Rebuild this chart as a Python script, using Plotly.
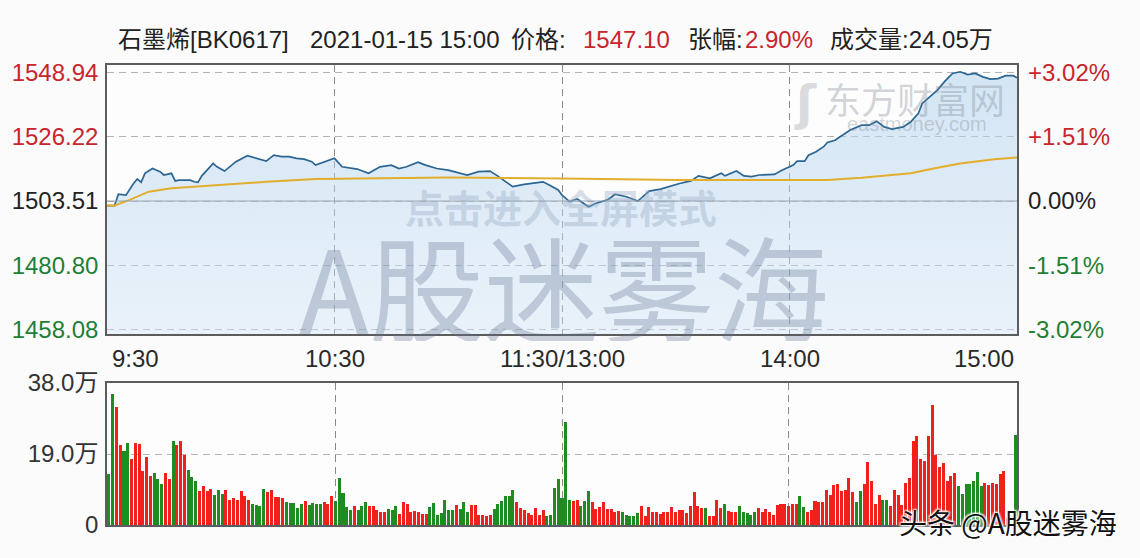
import plotly.graph_objects as go

# ---------------- data ----------------
stock_name = "石墨烯"
stock_code = "BK0617"
timestamp = "2021-01-15 15:00"
last_price = "1547.10"
change_pct = "2.90%"
last_volume = "24.05万"
prev_close = 1503.51

price_ticks = [1548.94, 1526.22, 1503.51, 1480.80, 1458.08]
pct_labels = ["+3.02%", "+1.51%", "0.00%", "-1.51%", "-3.02%"]
vol_ticks = [0, 19, 38]
vol_tick_labels = ["0", "19.0万", "38.0万"]
time_labels = ["9:30", "10:30", "11:30/13:00", "14:00", "15:00"]
time_label_minutes = [0, 60, 120, 180, 240]

price_minute = [0, 2, 3, 5, 7, 8, 9, 10, 12, 14, 15, 17, 18, 19, 22, 23, 24, 25, 28, 29,
                31, 33, 34, 37, 39, 40, 42, 44, 46, 48, 50, 52, 54, 55, 58, 60, 62, 64, 66, 69,
                71, 72, 75, 77, 79, 82, 84, 87, 90, 93, 95, 98, 101, 103, 105, 107, 110, 112, 115, 117,
                119, 120, 122, 124, 125, 127, 129, 132, 134, 137, 140, 143, 146, 148, 151, 154, 156, 159, 162, 163,
                166, 168, 170, 172, 176, 178, 181, 182, 184, 185, 187, 189, 190, 192, 194, 196, 199, 201, 203, 205,
                207, 210, 212, 214, 215, 217, 219, 221, 223, 225, 227, 229, 231, 233, 235, 237, 239, 240]
price_value = [1501.9, 1501.9, 1505.9, 1505.6, 1509.7, 1511.3, 1510.1, 1513.3, 1515.0, 1513.9,
               1512.7, 1513.3, 1510.6, 1510.9, 1510.9, 1510.3, 1510.1, 1512.4, 1516.8, 1515.6,
               1514.1, 1516.2, 1517.4, 1519.5, 1518.8, 1518.3, 1517.6, 1519.7, 1519.2, 1519.2,
               1518.6, 1518.3, 1517.4, 1516.2, 1517.6, 1518.6, 1515.6, 1515.3, 1514.8, 1513.3,
               1515.0, 1515.6, 1516.2, 1515.0, 1515.6, 1517.2, 1516.2, 1515.0, 1514.4, 1513.3,
               1512.7, 1513.9, 1514.1, 1512.4, 1510.6, 1508.6, 1509.4, 1509.7, 1510.3, 1508.9,
               1507.4, 1505.6, 1503.3, 1504.2, 1503.3, 1501.5, 1502.7, 1503.9, 1505.9, 1505.0,
               1503.5, 1507.0, 1507.7, 1508.6, 1509.7, 1510.6, 1512.4, 1511.5, 1513.3, 1512.4,
               1514.1, 1512.4, 1512.1, 1512.7, 1512.9, 1514.4, 1516.2, 1517.6, 1517.6, 1519.7,
               1520.9, 1522.7, 1524.2, 1525.0, 1526.8, 1528.6, 1530.3, 1530.3, 1531.7, 1529.7,
               1528.9, 1529.7, 1531.5, 1534.5, 1538.0, 1540.3, 1542.7, 1545.9, 1548.6, 1549.2,
               1548.2, 1548.6, 1547.4, 1546.6, 1546.8, 1547.8, 1547.8, 1547.1]

avg_minute = [0, 2, 6, 11, 17, 23, 29, 42, 55, 68, 72, 90, 120, 151, 172, 190, 199, 212, 218, 225, 234, 240]
avg_value = [1501.9, 1501.9, 1503.9, 1506.8, 1508.0, 1508.6, 1509.2, 1510.3, 1511.3, 1511.5,
             1511.7, 1511.8, 1511.5, 1510.9, 1510.9, 1510.9, 1511.7, 1513.3, 1515.0, 1516.8,
             1518.3, 1518.9]

# volume per minute (万), 241 minutes
volume_wan = [
    13.6, 35.0, 31.7, 21.4, 19.9, 22.0, 17.6, 22.0, 21.7, 14.5,
    18.2, 13.1, 13.8, 12.4, 11.0, 13.8, 12.2, 22.6, 21.4, 22.6,
    18.7, 14.7, 12.8, 11.8, 9.2, 10.4, 9.0, 9.7, 8.1, 9.3,
    8.4, 9.3, 6.6, 7.3, 6.8, 9.0, 7.7, 6.8, 5.6, 5.4,
    5.2, 9.7, 8.8, 9.4, 7.5, 7.5, 7.2, 6.1, 6.0, 6.0,
    4.5, 5.7, 6.4, 5.4, 5.8, 5.7, 5.5, 6.2, 5.6, 7.7,
    6.3, 12.5, 8.6, 4.8, 3.9, 5.2, 3.9, 5.2, 6.2, 5.2,
    5.2, 4.1, 3.4, 3.4, 4.3, 3.9, 5.0, 3.0, 6.2, 5.6,
    3.6, 3.8, 3.6, 3.0, 3.0, 4.7, 5.8, 2.7, 3.3, 6.8,
    4.1, 4.1, 5.4, 4.4, 6.2, 3.5, 5.4, 5.4, 2.8, 2.8,
    2.3, 2.8, 4.4, 5.6, 6.4, 7.7, 7.7, 9.3, 6.2, 4.5,
    3.9, 3.2, 2.7, 4.6, 2.7, 3.9, 2.4, 2.7, 9.8, 12.2,
    7.2,
    27.6, 6.8, 6.3, 6.8, 5.2, 6.3, 9.2, 6.2, 4.3, 4.7,
    6.1, 4.4, 4.3, 3.4, 3.8, 3.4, 2.8, 2.4, 2.3, 3.2,
    5.2, 2.4, 4.8, 3.6, 3.4, 3.0, 3.4, 3.4, 4.8, 3.4,
    4.1, 4.1, 3.2, 5.2, 8.8, 5.0, 4.5, 4.5, 2.3, 2.3,
    6.8, 4.6, 5.6, 3.8, 3.6, 3.4, 5.2, 3.4, 3.2, 2.7,
    3.4, 4.5, 3.6, 4.3, 3.4, 2.7, 5.3, 5.7, 5.7, 5.0,
    5.7, 5.7, 7.7, 4.7, 3.4, 3.9, 6.5, 6.1, 6.1, 9.5,
    8.0, 10.6, 11.0, 9.2, 9.5, 12.7, 8.8, 6.2, 9.2, 11.1,
    16.9, 11.8, 5.6, 7.9, 6.8, 6.6, 5.0, 9.5, 8.1, 5.4,
    11.3, 12.7, 22.5, 23.7, 17.6, 17.2, 23.8, 32.1, 18.6, 15.4,
    16.6, 11.8, 13.1, 13.8, 10.4, 8.4, 11.0, 11.0, 11.7, 14.3,
    10.4, 11.3, 10.8, 11.3, 10.9, 13.6, 14.4, 2.0, 0.0, 24.05,
]
# u = price up in that minute (red), d = down (green)
volume_dir = list(
    "dduudduuuu" "uuddduuduu" "uddduuuudd" "duuuuuuudd" "dduuuuuddd" "ddudddduuu"
    "dddddudddu" "uuuuddduuu" "uuuuuddddd" "dduddduuuu" "uudddddduu" "uuuuuudddd" "d"
    "dduuddduuu" "uuuuuddddd" "uuuuuuuuuu" "uuuuuuuduu" "uuduuudddd" "duuuuuuuuu"
    "uudduuuuuu" "uuuuuuuddu" "uuuudduuuu" "uuuuuuuuuu" "uuuudddddd" "duuuuuuuud"
)

# ---------------- styling ----------------
RED = "#c8262c"
GREEN = "#1f7f34"
BLACK = "#222222"
BAR_RED = "#f0201c"
BAR_GREEN = "#1e8c22"
FONT = "Liberation Sans, Arial, Noto Sans CJK SC, sans-serif"

L, R, T, B = 107, 1017, 65, 525   # plot area in px
W, H = 1140, 558


def px_x(p):
    return (p - L) / (R - L)


def px_y(p):
    return (B - p) / (B - T)


top_lo = (B - 334) / (B - T)
vol_hi = (B - 383) / (B - T)
y_range = [1456.49, 1551.59]


def tick_color(v):
    if v > prev_close + 0.001:
        return RED
    if v < prev_close - 0.001:
        return GREEN
    return BLACK


left_ticktext = [f'<span style="color:{tick_color(v)}">{v:.2f}</span>' for v in price_ticks]
right_ticktext = [f'<span style="color:{tick_color(v)}">{t}</span>' for v, t in zip(price_ticks, pct_labels)]

fig = go.Figure()

fig.add_trace(go.Scatter(
    x=price_minute, y=price_value, mode="lines",
    line=dict(color="#2b6591", width=1.7),
    fill="tozeroy",
    fillgradient=dict(type="vertical", start=1456.0, stop=1552.0,
                      colorscale=[[0, "rgba(205,226,244,0.42)"], [1, "rgba(175,208,236,0.55)"]]),
    xaxis="x", yaxis="y", hoverinfo="skip", showlegend=False,
))
fig.add_trace(go.Scatter(
    x=avg_minute, y=avg_value, mode="lines",
    line=dict(color="#e3ad2d", width=2),
    xaxis="x", yaxis="y", hoverinfo="skip", showlegend=False,
))
# invisible helper so the right-hand percentage axis is drawn
fig.add_trace(go.Scatter(
    x=[price_minute[0], price_minute[-1]], y=[price_ticks[-1], price_ticks[0]],
    mode="lines", opacity=0, xaxis="x", yaxis="y2", hoverinfo="skip", showlegend=False,
))

fig.add_trace(go.Bar(
    x=list(range(len(volume_wan))), y=volume_wan,
    marker=dict(color=[BAR_RED if d == "u" else BAR_GREEN for d in volume_dir], line=dict(width=0)),
    width=0.8, xaxis="x2", yaxis="y3", hoverinfo="skip", showlegend=False,
))

grid_dash = "7px,5px"
frame = dict(showline=True, mirror=True, linecolor="#5c5c5c", linewidth=1.5, automargin=False)

fig.update_layout(
    width=W, height=H,
    margin=dict(l=L, r=W - R, t=T, b=H - B, pad=0, autoexpand=False),
    paper_bgcolor="#fbfbfc",
    plot_bgcolor="#fdfdfe",
    font=dict(family=FONT, size=24, color="#333333"),
    bargap=0,
    xaxis=dict(domain=[0, 1], anchor="y", range=[0, 240], tickvals=[60, 120, 180],
               showticklabels=False, ticks="", showgrid=True, gridcolor="#8a8a8a",
               griddash=grid_dash, gridwidth=1, zeroline=False, **frame),
    yaxis=dict(domain=[top_lo, 1], anchor="x", range=y_range, tickvals=price_ticks,
               ticktext=left_ticktext, ticks="", ticklabelstandoff=2,
               tickfont=dict(size=24, family=FONT),
               showgrid=True, gridcolor="#b4b4b4", griddash=grid_dash, zeroline=False, **frame),
    yaxis2=dict(overlaying="y", anchor="x", side="right", range=y_range, tickvals=price_ticks,
                ticktext=right_ticktext, ticks="", ticklabelstandoff=10, automargin=False,
                tickfont=dict(size=24, family=FONT), showgrid=False, zeroline=False, showline=False),
    xaxis2=dict(domain=[0, 1], anchor="y3", range=[-0.5, 240.5], tickvals=[60, 120, 180],
                showticklabels=False, ticks="", showgrid=True, gridcolor="#8a8a8a",
                griddash=grid_dash, zeroline=False, **frame),
    yaxis3=dict(domain=[0, vol_hi], anchor="x2", range=[0, 38], tickvals=vol_ticks,
                ticktext=vol_tick_labels, ticks="", ticklabelstandoff=2,
                tickfont=dict(size=24, family=FONT, color="#333333"),
                showgrid=True, gridcolor="#b4b4b4", griddash=grid_dash, zeroline=False, **frame),
)

# solid previous-close line
fig.add_shape(type="line", xref="x domain", yref="y", x0=0, x1=1, y0=prev_close, y1=prev_close,
              line=dict(color="#9aa6b2", width=1.2))

ann = []
# title pieces
title_parts = [
    (116, f"{stock_name}[{stock_code}]", BLACK),
    (308, timestamp, BLACK),
    (509, "价格:", BLACK),
    (581, last_price, RED),
    (686, "张幅:", BLACK),
    (743, change_pct, RED),
    (828, f"成交量:{last_volume}", BLACK),
]
for xp, txt, col in title_parts:
    ann.append(dict(xref="paper", yref="paper", x=px_x(xp), y=px_y(40), xanchor="left",
                    yanchor="middle", text=txt, showarrow=False,
                    font=dict(size=24, color=col, family=FONT)))

# time labels between the panels
for m, lab in zip(time_label_minutes, time_labels):
    if m == time_label_minutes[0]:
        xa, sh = "left", 3
    elif m == time_label_minutes[-1]:
        xa, sh = "right", -1
    else:
        xa, sh = "center", 0
    ann.append(dict(xref="x", yref="paper", x=m, y=px_y(358), xanchor=xa, yanchor="middle",
                    xshift=sh, text=lab, showarrow=False, height=26,
                    font=dict(size=24, color="#2a2a2a", family=FONT)))

# watermarks
ann.append(dict(xref="paper", yref="paper", x=px_x(564), y=px_y(284), text="A股迷雾海",
                showarrow=False, xanchor="center", yanchor="middle", height=114,
                font=dict(size=115, color="rgba(100,115,145,0.32)", family="Noto Sans CJK SC")))
ann.append(dict(xref="paper", yref="paper", x=px_x(561), y=px_y(206), text="<b>点击进入全屏模式</b>",
                showarrow=False, xanchor="center", yanchor="middle",
                font=dict(size=39, color="rgba(150,170,195,0.38)", family="Noto Sans CJK SC")))
ann.append(dict(xref="paper", yref="paper", x=px_x(915), y=px_y(98), text="东方财富网",
                showarrow=False, xanchor="center", yanchor="middle", height=38,
                font=dict(size=36, color="rgba(130,135,145,0.35)", family="Noto Sans CJK SC")))
ann.append(dict(xref="paper", yref="paper", x=px_x(917), y=px_y(124), text="eastmoney.com",
                showarrow=False, xanchor="center", yanchor="middle",
                font=dict(size=20, color="rgba(130,135,145,0.35)", family=FONT)))
ann.append(dict(xref="paper", yref="paper", x=px_x(805), y=px_y(103), text="<b>ʃ</b>",
                showarrow=False, xanchor="center", yanchor="middle",
                font=dict(size=48, color="rgba(130,135,145,0.30)", family="DejaVu Sans")))
ann.append(dict(xref="paper", yref="paper", x=px_x(1008), y=px_y(522), text="头条 @A股迷雾海",
                showarrow=False, xanchor="center", yanchor="middle",
                font=dict(size=28, color="#111111", family="Noto Sans CJK SC",
                          shadow="1px 1px 2px #ffffff, -1px -1px 2px #ffffff, 1px -1px 2px #ffffff, -1px 1px 2px #ffffff")))

fig.update_layout(annotations=ann)

fig.write_html("out.html", config={"displayModeBar": False},
               post_script="document.body.style.margin='0';document.body.style.overflow='hidden';")
